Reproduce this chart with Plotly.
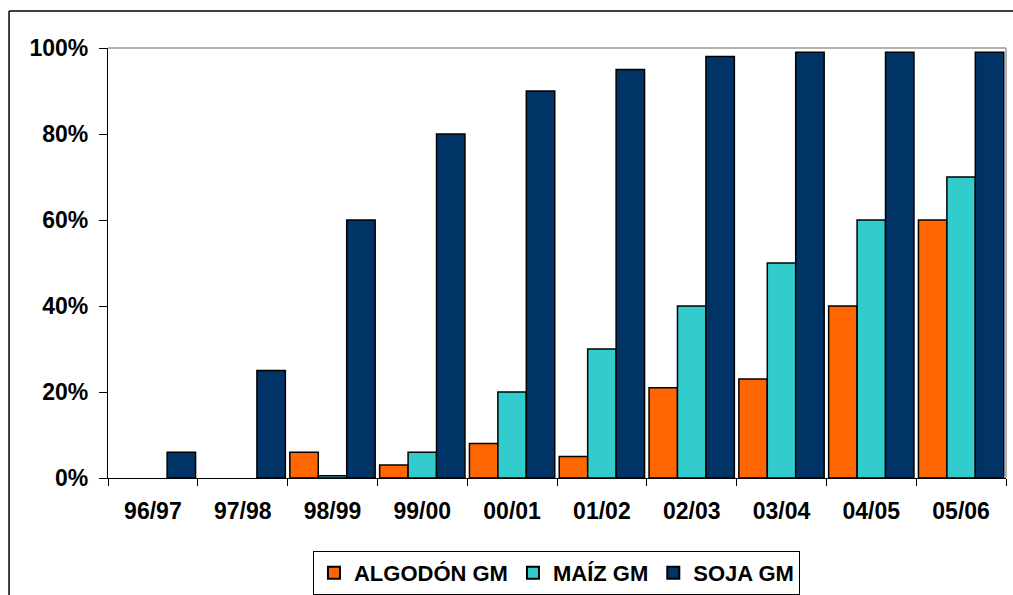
import plotly.graph_objects as go

# Campaign seasons and share of area under GM varieties (%)
campaigns = ["96/97", "97/98", "98/99", "99/00", "00/01",
             "01/02", "02/03", "03/04", "04/05", "05/06"]
algodon_gm = [None, None, 6, 3, 8, 5, 21, 23, 40, 60]
maiz_gm = [None, None, 0.5, 6, 20, 30, 40, 50, 60, 70]
soja_gm = [6, 25, 60, 80, 90, 95, 98, 99, 99, 99]

y_ticks = [0, 20, 40, 60, 80, 100]
y_tick_labels = ["0%", "20%", "40%", "60%", "80%", "100%"]

FONT = "Arial, 'Liberation Sans', sans-serif"

series = [
    ("ALGODÓN GM", algodon_gm, "#FF6600"),
    ("MAÍZ GM", maiz_gm, "#33CCCC"),
    ("SOJA GM", soja_gm, "#003366"),
]

fig = go.Figure()
for name, values, color in series:
    fig.add_trace(go.Bar(
        x=campaigns, y=values, name=name,
        marker=dict(color=color, line=dict(color="black", width=1.5)),
    ))

fig.update_layout(
    width=1013, height=595,
    margin=dict(l=108, r=7, t=48, b=117, autoexpand=False),
    paper_bgcolor="white", plot_bgcolor="white",
    barmode="group", bargap=0.05, bargroupgap=0,
    font=dict(family=FONT, size=22, color="black", weight="bold"),
    showlegend=True,
    legend=dict(
        orientation="h", x=0.4994, xanchor="center", y=-0.221, yanchor="middle",
        bordercolor="black", borderwidth=1, bgcolor="white",
        font=dict(family=FONT, size=22, color="black", weight="bold"),
        itemsizing="constant", itemwidth=30, tracegroupgap=0,
    ),
    xaxis=dict(
        type="category", showline=True, linecolor="black", linewidth=1.2,
        ticks="outside", tickson="boundaries", ticklen=7, tickcolor="black",
        ticklabelstandoff=12, automargin=False,
        tickfont=dict(family=FONT, size=23, color="black", weight="bold"),
        showgrid=False, zeroline=False,
    ),
    yaxis=dict(
        range=[0, 100], tickvals=y_ticks, ticktext=y_tick_labels,
        showline=True, linecolor="black", linewidth=1.2,
        ticks="outside", ticklen=8, tickcolor="black",
        ticklabelstandoff=6, automargin=False,
        tickfont=dict(family=FONT, size=23, color="black", weight="bold"),
        showgrid=False, zeroline=False,
    ),
)

# Plot-area frame: grey top and right edges
fig.add_shape(type="line", xref="paper", yref="paper", x0=0, x1=1, y0=1, y1=1,
              line=dict(color="#999999", width=1.5))
fig.add_shape(type="line", xref="paper", yref="paper", x0=1, x1=1, y0=0, y1=1,
              line=dict(color="#999999", width=1.5))

# Outer chart border (top and left edges)
fig.add_shape(type="line", xref="paper", yref="paper", x0=-0.1102, x1=1.1,
              y0=1.086, y1=1.086, line=dict(color="black", width=1.5))
fig.add_shape(type="line", xref="paper", yref="paper", x0=-0.1102, x1=-0.1102,
              y0=1.086, y1=-0.4, line=dict(color="black", width=1.5))

fig.write_html("out.html")
